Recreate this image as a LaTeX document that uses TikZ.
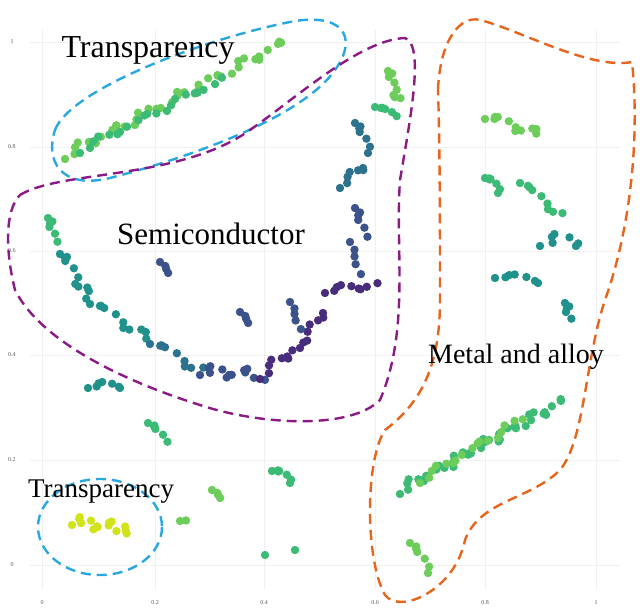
\documentclass[tikz,border=0pt]{standalone}
\usepackage{fontspec}
\setmainfont{Liberation Serif}
\usetikzlibrary{calc}
\definecolor{vy}{HTML}{D2E21B}
\definecolor{vg}{HTML}{6CCD5A}
\definecolor{vm}{HTML}{3BBB75}
\definecolor{vt}{HTML}{21918C}
\definecolor{vb}{HTML}{2C728E}
\definecolor{vd}{HTML}{3B528B}
\definecolor{vp}{HTML}{472D7B}
\definecolor{tblue}{HTML}{29A8E0}
\definecolor{tpurple}{HTML}{8B1A86}
\definecolor{torange}{HTML}{E8641B}
\tikzset{
  grid/.style={draw=gray!12,line width=0.5pt},
  tick/.style={font=\fontsize{6}{7}\selectfont,text=gray!70!black},
  zone/.style={line width=2.4pt,dash pattern=on 10pt off 6pt},
  big/.style={font=\fontsize{#1}{#1}\selectfont,inner sep=0pt}
}
\newcommand\myband[5]{% from, to, n, color, jitter
  \foreach \i in {0,...,#3}{
    \fill[#4] ($(#1)!{\i/#3}!(#2)$) ++ ({#5*sin(\i*97)},{#5*cos(\i*61)}) circle (4.2);}}
\begin{document}
\begin{tikzpicture}[x=1pt,y=-1pt]
\useasboundingbox (0,0) rectangle (640,609);
% grid
\foreach \x/\l in {42/0,155/0.2,264/0.4,375/0.6,485/0.8,596/1}{
  \draw[grid] (\x,30) -- (\x,590);
  \node[tick] (tx\x) at (\x,603) {\l};}
\foreach \y/\l in {42/1,147/0.8,251/0.6,355/0.4,460/0.2,565/0}{
  \draw[grid] (30,\y) -- (620,\y);
  \node[tick] (ty\y) at (12,\y) {\l};}
% top transparency band
\myband{65,155}{285,42}{40}{vg}{4}
\myband{80,150}{220,80}{20}{vm}{3}
% top right cluster
\myband{388,68}{398,100}{8}{vg}{3}
\myband{375,105}{395,115}{5}{vm}{2}
% semiconductor arc
\myband{48,215}{55,240}{5}{vm}{3}
\myband{60,250}{90,300}{10}{vt}{4}
\myband{90,300}{150,340}{10}{vt}{4}
\myband{150,340}{200,370}{8}{vb}{4}
\myband{200,370}{260,375}{12}{vd}{5}
\myband{260,375}{300,345}{8}{vp}{4}
\myband{300,345}{325,310}{6}{vp}{3}
\myband{240,310}{250,325}{3}{vd}{2}
\myband{325,290}{375,285}{8}{vp}{3}
\myband{350,240}{360,275}{4}{vd}{2}
\myband{355,205}{365,235}{5}{vd}{3}
\myband{340,185}{365,165}{6}{vb}{3}
\myband{355,120}{370,150}{6}{vb}{3}
\myband{160,260}{170,275}{3}{vd}{2}
\myband{290,300}{300,330}{4}{vd}{2}
% metals
\myband{485,115}{540,135}{10}{vg}{4}
\myband{485,175}{500,190}{6}{vm}{3}
\myband{520,180}{560,215}{8}{vm}{3}
\myband{540,240}{580,240}{6}{vt}{6}
\myband{495,275}{540,280}{6}{vt}{3}
\myband{565,300}{570,320}{4}{vt}{3}
\myband{400,490}{565,400}{40}{vm}{4}
\myband{420,480}{520,420}{16}{vg}{3}
% bottom
\myband{410,540}{430,570}{6}{vg}{3}
\myband{148,420}{165,440}{5}{vm}{3}
\myband{88,385}{122,385}{6}{vt}{3}
\myband{272,468}{292,480}{6}{vm}{3}
\myband{212,488}{222,500}{3}{vg}{2}
\myband{180,520}{185,520}{1}{vg}{1}
\fill[vm] (265,555) circle (4.2) (295,550) circle (4.2);
\myband{72,520}{130,530}{14}{vy}{5}
% zones
\draw[zone,tblue] (55,130) .. controls (70,90) and (200,40) .. (290,22)
  .. controls (340,12) and (360,35) .. (335,70)
  .. controls (300,120) and (180,160) .. (110,178)
  .. controls (60,190) and (45,160) .. (55,130);
\draw[zone,tpurple] (20,195) .. controls (60,170) and (180,180) .. (250,130)
  .. controls (300,95) and (360,40) .. (405,38)
  .. controls (425,45) and (410,120) .. (400,180)
  .. controls (395,250) and (410,330) .. (380,400)
  .. controls (350,430) and (260,425) .. (200,405)
  .. controls (120,380) and (40,340) .. (15,290)
  .. controls (5,250) and (5,210) .. (20,195);
\draw[zone,torange] (438,90) .. controls (440,40) and (460,15) .. (480,20)
  .. controls (520,30) and (590,70) .. (632,62)
  .. controls (640,140) and (630,230) .. (605,300)
  .. controls (585,360) and (585,440) .. (560,470)
  .. controls (530,500) and (480,500) .. (465,540)
  .. controls (455,590) and (400,615) .. (385,595)
  .. controls (365,560) and (365,460) .. (385,430)
  .. controls (425,400) and (440,360) .. (440,300)
  .. controls (440,230) and (440,150) .. (438,90);
\draw[zone,tblue] (100,527) ellipse (62 and 48);
% labels
\node[big=32] (t1) at (148,50) {Transparency};
\node[big=31] (sc) at (211,234) {Semiconductor};
\node[big=28] (ma) at (516,357) {Metal and alloy};
\node[big=27] (t2) at (101,492) {Transparency};
\end{tikzpicture}
\end{document}
